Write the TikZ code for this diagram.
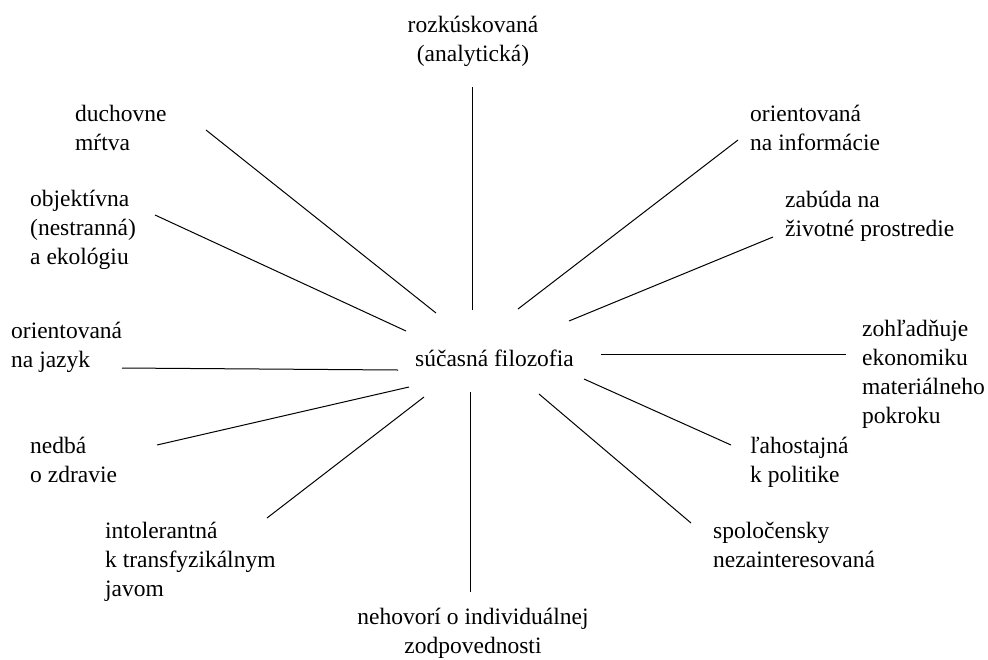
\documentclass[tikz,border=0pt]{standalone}
\usepackage{fontspec}
\setmainfont{Liberation Serif}
\begin{document}
\begin{tikzpicture}[x=1pt, y=-1pt,
    every node/.style={inner sep=0pt, font=\fontsize{23.5}{28.8}\selectfont},
    leaf/.style={anchor=base west, align=left},
    mid/.style={anchor=base, align=center},
    spoke/.style={line width=1pt}]
\useasboundingbox (0,0) rectangle (988,659);
\node [anchor=base west] (sucasna) at (415,366) {súčasná filozofia};
\node [mid] (rozkuskovana) at (473,61) {rozkúskovaná\\(analytická)};
\node [leaf] (duchovne) at (75,150) {duchovne\\mŕtva};
\node [leaf] (objektivna) at (30,264) {objektívna\\(nestranná)\\a ekológiu};
\node [leaf] (jazyk) at (11,367) {orientovaná\\na jazyk};
\node [leaf] (nedba) at (30,482) {nedbá\\o zdravie};
\node [leaf] (intolerantna) at (105,596) {intolerantná\\k transfyzikálnym\\javom};
\node [mid] (nehovori) at (473,653) {nehovorí o individuálnej\\zodpovednosti};
\node [leaf] (spolocensky) at (713,567) {spoločensky\\nezainteresovaná};
\node [leaf] (lahostajna) at (750,482) {ľahostajná\\k politike};
\node [leaf] (zohladnuje) at (862,423) {zohľadňuje\\ekonomiku\\materiálneho\\pokroku};
\node [leaf] (zabuda) at (785,236) {zabúda na\\životné prostredie};
\node [leaf] (informacie) at (750,150) {orientovaná\\na informácie};

\coordinate (rozkuskovana-end) at (472,87);
\coordinate (rozkuskovana-in) at (472,310);
\coordinate (duchovne-end) at (206,130);
\coordinate (duchovne-in) at (436,313);
\coordinate (objektivna-end) at (155,215);
\coordinate (objektivna-in) at (406,331);
\coordinate (jazyk-end) at (122,368);
\coordinate (jazyk-in) at (398,370);
\coordinate (nedba-end) at (157,445);
\coordinate (nedba-in) at (409,387);
\coordinate (intolerantna-end) at (267,518);
\coordinate (intolerantna-in) at (424,397);
\coordinate (nehovori-end) at (470,592);
\coordinate (nehovori-in) at (470,392);
\coordinate (spolocensky-end) at (691,523);
\coordinate (spolocensky-in) at (539,394);
\coordinate (lahostajna-end) at (731,445);
\coordinate (lahostajna-in) at (584,379);
\coordinate (zohladnuje-end) at (846,354);
\coordinate (zohladnuje-in) at (601,354);
\coordinate (zabuda-end) at (773,237);
\coordinate (zabuda-in) at (569,321);
\coordinate (informacie-end) at (738,140);
\coordinate (informacie-in) at (518,309);

\foreach \n in {rozkuskovana, duchovne, objektivna, jazyk, nedba, intolerantna,
                nehovori, spolocensky, lahostajna, zohladnuje, zabuda, informacie}
  \draw [spoke] (\n-in) -- (\n-end);
\end{tikzpicture}
\end{document}
